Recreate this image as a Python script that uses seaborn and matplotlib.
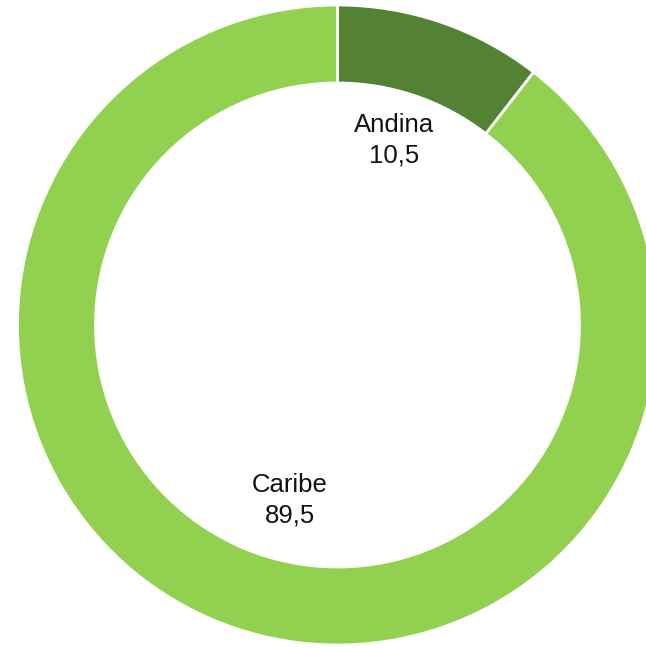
import matplotlib
matplotlib.use("Agg")
import matplotlib.pyplot as plt
import seaborn as sns

# Regional shares (%)
regions = ["Andina", "Caribe"]
shares = [10.5, 89.5]
colors = ["#548235", "#92D050"]

sns.set_theme(style="white")
plt.rcParams["font.family"] = ["Liberation Sans", "DejaVu Sans"]

fig = plt.figure(figsize=(6.46, 6.48), dpi=100)
ax = fig.add_axes([0, 0, 1, 1])

radius = 320
ring = 78
wedges, _ = ax.pie(
    shares,
    colors=colors,
    startangle=90,
    counterclock=False,
    radius=radius,
    wedgeprops=dict(width=ring, edgecolor="white", linewidth=2),
)

ax.set_xlim(-337.5, 308.5)
ax.set_ylim(-323, 325)
ax.set_aspect("equal")
ax.axis("off")

label_pos = {"Andina": (57, 185), "Caribe": (-47.5, -175)}
for name, val in zip(regions, shares):
    x, y = label_pos[name]
    ax.text(x, y, f"{name}\n{val:.1f}".replace(".", ","),
            ha="center", va="center", fontsize=18.5, color="#111111",
            linespacing=1.35)

fig.savefig("out.png", dpi=100)
